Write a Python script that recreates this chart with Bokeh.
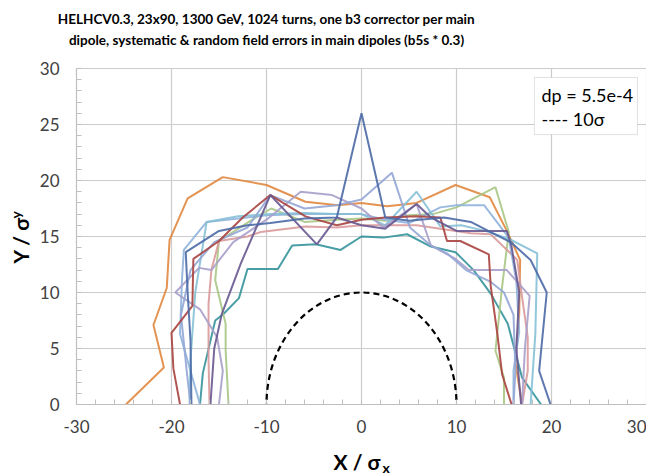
import math
from bokeh.plotting import figure
from bokeh.models import Label, Range1d, SingleIntervalTicker, BoxAnnotation
from bokeh.embed import file_html
from bokeh.resources import INLINE

# ---------------- data ----------------
title_line1 = "HELHCV0.3, 23x90, 1300 GeV, 1024 turns, one b3 corrector per main"
title_line2 = "dipole, systematic & random field errors in main dipoles (b5s * 0.3)"
legend_line1 = "dp = 5.5e-4"
legend_line2 = "---- 10σ"

x_ticks = [-30, -20, -10, 0, 10, 20, 30]
y_ticks = [0, 5, 10, 15, 20, 25, 30]
ref_radius = 10

orange_x = [-24.8, -20.8, -21.9, -20.5, -20.2, -18.3, -14.6, -10.0, -5.9, -2.5, 0.0, 2.7, 5.8, 9.9, 13.5, 15.3, 16.7, 16.6, 16.2, 16.9]
orange_y = [0, 3.3, 7.1, 10.4, 14.7, 18.4, 20.3, 19.6, 18.1, 17.8, 18.0, 17.7, 18.0, 19.6, 18.5, 15.5, 12.9, 8.0, 3.7, 0]

teal_x = [-17.0, -16.7, -15.4, -14.5, -12.9, -12.0, -8.8, -7.3, -4.8, -2.2, 0.0, 2.3, 4.8, 7.3, 9.9, 11.8, 13.6, 15.4, 16.9, 18.9]
teal_y = [0, 2.8, 7.5, 8.1, 9.5, 12.1, 12.1, 14.2, 14.3, 13.8, 15.0, 14.9, 15.2, 14.1, 13.6, 12.0, 9.9, 7.2, 2.4, 0]

red_x = [-19.1, -19.8, -20.0, -17.8, -17.7, -15.0, -12.5, -9.6, -5.9, -2.6, 0.0, 2.5, 5.8, 8.3, 9.0, 10.4, 13.4, 13.6, 14.3, 14.8, 15.8]
red_y = [0, 3.2, 6.4, 8.8, 13.0, 14.6, 16.7, 18.7, 16.8, 16.0, 16.5, 16.7, 16.8, 16.7, 14.6, 14.6, 13.4, 10.6, 6.3, 2.7, 0]

green_x = [-14.0, -14.3, -14.3, -15.4, -15.0, -11.7, -9.5, -6.0, -2.5, 0.0, 2.5, 5.0, 7.5, 10.0, 14.1, 15.5, 14.8, 14.1, 15.0, 15.0]
green_y = [0, 4.8, 7.2, 11.1, 14.6, 16.4, 17.5, 16.3, 16.5, 16.6, 16.4, 16.9, 17.0, 17.6, 19.4, 15.4, 10.5, 4.8, 2.4, 0]

purple_x = [-15.9, -15.5, -14.7, -12.7, -9.6, -4.7, -2.6, 0.0, 2.5, 5.8, 7.3, 10.0, 13.2, 15.3, 15.8, 16.6, 16.3, 16.8]
purple_y = [0, 5.0, 8.1, 12.6, 18.7, 14.3, 16.7, 16.0, 15.7, 17.9, 16.7, 15.5, 15.5, 15.5, 14.1, 10.0, 5.0, 0]

pink_x = [-16.0, -16.1, -16.1, -15.8, -15.0, -12.0, -10.6, -5.9, -2.6, 0.0, 2.5, 5.8, 9.9, 11.5, 13.6, 16.4, 16.9, 17.5, 17.5, 16.9]
pink_y = [0, 4.0, 9.0, 12.0, 14.6, 15.0, 15.4, 15.9, 15.8, 16.0, 16.0, 16.0, 15.5, 15.3, 15.2, 12.9, 9.6, 6.0, 3.0, 0]

lightblue_x = [-17.0, -18.0, -19.1, -18.9, -18.7, -16.3, -13.0, -10.0, -6.0, -2.5, 0.0, 2.5, 5.0, 8.3, 10.0, 12.9, 15.5, 16.3, 16.6, 16.0, 16.0]
lightblue_y = [0, 3.0, 6.3, 11.1, 13.8, 16.3, 16.6, 16.9, 17.0, 17.0, 17.0, 16.5, 16.2, 17.6, 17.8, 17.8, 14.9, 11.0, 6.5, 3.0, 0]

cyan_x = [-18.1, -18.0, -17.5, -16.3, -13.0, -9.6, -5.9, -2.6, 0.0, 2.5, 5.8, 8.3, 10.5, 13.0, 15.5, 18.5, 18.3, 17.8]
cyan_y = [0, 4.0, 10.0, 16.3, 16.8, 17.0, 17.1, 17.0, 17.0, 16.0, 19.0, 15.9, 16.0, 15.5, 14.8, 13.5, 6.3, 0]

lavender_x = [-15.0, -14.6, -15.2, -17.0, -19.6, -17.1, -15.8, -13.5, -10.0, -6.4, -3.1, 0.0, 2.3, 5.8, 7.3, 9.9, 11.3, 15.3, 17.7, 17.2, 16.9]
lavender_y = [0, 3.0, 6.0, 8.5, 10.0, 12.2, 12.0, 14.5, 16.5, 19.0, 18.7, 17.5, 15.8, 17.9, 14.2, 13.0, 12.0, 12.0, 9.7, 5.0, 0]

periwinkle_x = [-18.0, -18.4, -19.0, -18.0, -15.5, -12.0, -9.6, -6.0, -2.6, 0.0, 3.2, 5.1, 7.3, 9.0, 11.0, 13.5, 15.0, 16.0, 16.2, 16.0]
periwinkle_y = [0, 3.0, 8.0, 12.0, 14.5, 15.8, 18.7, 17.5, 17.8, 18.3, 20.7, 15.8, 14.2, 13.5, 12.0, 11.0, 10.0, 8.0, 3.0, 0]

spike_x = [-17.9, -18.0, -18.3, -18.5, -15.0, -12.0, -9.6, -6.0, -2.6, 0.0, 2.5, 5.0, 8.7, 11.5, 13.6, 15.7, 17.8, 19.5, 18.7, 19.9]
spike_y = [0, 5.7, 10.0, 13.6, 15.5, 16.0, 16.2, 16.6, 16.7, 26.0, 16.7, 16.4, 16.7, 16.3, 15.4, 14.5, 12.9, 10.0, 3.0, 0]

series = [
    (orange_x, orange_y, "#e0873f"),
    (teal_x, teal_y, "#35949c"),
    (green_x, green_y, "#a8c784"),
    (pink_x, pink_y, "#d9999b"),
    (lightblue_x, lightblue_y, "#8fb3dc"),
    (cyan_x, cyan_y, "#86c0d6"),
    (lavender_x, lavender_y, "#a89fca"),
    (periwinkle_x, periwinkle_y, "#94a6d6"),
    (red_x, red_y, "#a8433f"),
    (purple_x, purple_y, "#67588f"),
    (spike_x, spike_y, "#4a69a6"),
]

# ---------------- layout ----------------
W, H = 646, 476
PL, PR, PT, PB = 76, 646, 68, 404          # data box in canvas pixels
xlo, xhi = x_ticks[0], x_ticks[-1]
ylo, yhi = y_ticks[0], y_ticks[-1]
kx = (xhi - xlo) / (PR - PL)
ky = (yhi - ylo) / (PB - PT)

# the frame covers the whole canvas so that texts outside the data box are visible
p = figure(width=W, height=H, output_backend="svg", toolbar_location=None,
           x_range=Range1d(xlo - PL * kx, xhi + (W - PR) * kx),
           y_range=Range1d(ylo - (H - PB) * ky, yhi + PT * ky),
           min_border=0, min_border_left=0, min_border_right=0,
           min_border_top=0, min_border_bottom=0)
p.outline_line_color = None
p.background_fill_color = "white"
p.border_fill_color = "white"
p.xgrid.visible = False
p.ygrid.visible = False

grid_col = "#cccccc"
gx = x_ticks[1:]
gy = y_ticks[1:]
p.segment(x0=gx, y0=[ylo] * len(gx), x1=gx, y1=[yhi] * len(gx),
          line_color=grid_col, line_width=1.2, level="underlay")
p.segment(x0=[xlo] * len(gy), y0=gy, x1=[xhi] * len(gy), y1=gy,
          line_color=grid_col, line_width=1.2, level="underlay")

p.xaxis.ticker = SingleIntervalTicker(interval=10, num_minor_ticks=5)
p.yaxis.ticker = SingleIntervalTicker(interval=5, num_minor_ticks=5)
p.xaxis.fixed_location = ylo
p.yaxis.fixed_location = xlo
p.xaxis.bounds = (xlo, xhi)
p.yaxis.bounds = (ylo, yhi)
p.xaxis.major_label_overrides = {t: str(t) for t in x_ticks}

for ax in (p.xaxis, p.yaxis):
    ax.axis_line_color = "#bfbfbf"
    ax.axis_line_width = 1.2
    ax.major_tick_line_color = None
    ax.major_tick_in = 0
    ax.major_tick_out = 0
    ax.minor_tick_line_color = "#bfbfbf"
    ax.minor_tick_in = 5
    ax.minor_tick_out = 0
    ax.major_label_text_font = "Lato"
    ax.major_label_text_font_size = "17px"
    ax.major_label_text_color = "#404040"
p.xaxis.major_label_standoff = 15
p.yaxis.major_label_standoff = 17

for xs, ys, c in series:
    p.line(xs, ys, line_color=c, line_width=2, line_alpha=0.9)

# 10 sigma reference (dashed half circle)
p.ellipse(x=[0], y=[0], width=[2 * ref_radius], height=[2 * ref_radius],
          fill_alpha=0, line_color="black", line_width=2.2, line_dash="6 4")

# hide everything drawn below y = 0 (acts as the plot-area clip)
cover = BoxAnnotation(top=ylo, fill_color="white", fill_alpha=1.0,
                      line_color=None, level="glyph")
p.renderers.append(cover)

# legend box
p.add_layout(BoxAnnotation(left=18.2, right=29.05, top=29.2, bottom=24.1,
                           fill_color="white", fill_alpha=1.0,
                           line_color="#9a9a9a", line_width=1))


def add_text(cx, cy, text, size, bold=False, align="left", angle=0.0, font="Lato",
             color="black"):
    p.add_layout(Label(x=cx, y=H - cy, x_units="screen", y_units="screen", text=text,
                       text_font=font, text_font_size=size,
                       text_font_style="bold" if bold else "normal",
                       text_align=align, text_baseline="middle",
                       angle=angle, text_color=color))


add_text(541, 94, legend_line1, "18px")
add_text(541, 118, legend_line2, "18px")

add_text(266, 18, title_line1, "13.5px", bold=True, align="center")
add_text(266, 39, title_line2, "13.5px", bold=True, align="center")

add_text(333, 461, "X / σ", "21px", bold=True)
add_text(382, 467, "x", "14px", bold=True)

add_text(20, 263, "Y / σ", "21px", bold=True, angle=math.pi / 2)
add_text(15, 218, "y", "14px", bold=True, angle=math.pi / 2)

open("out.html", "w").write(file_html(p, INLINE))
